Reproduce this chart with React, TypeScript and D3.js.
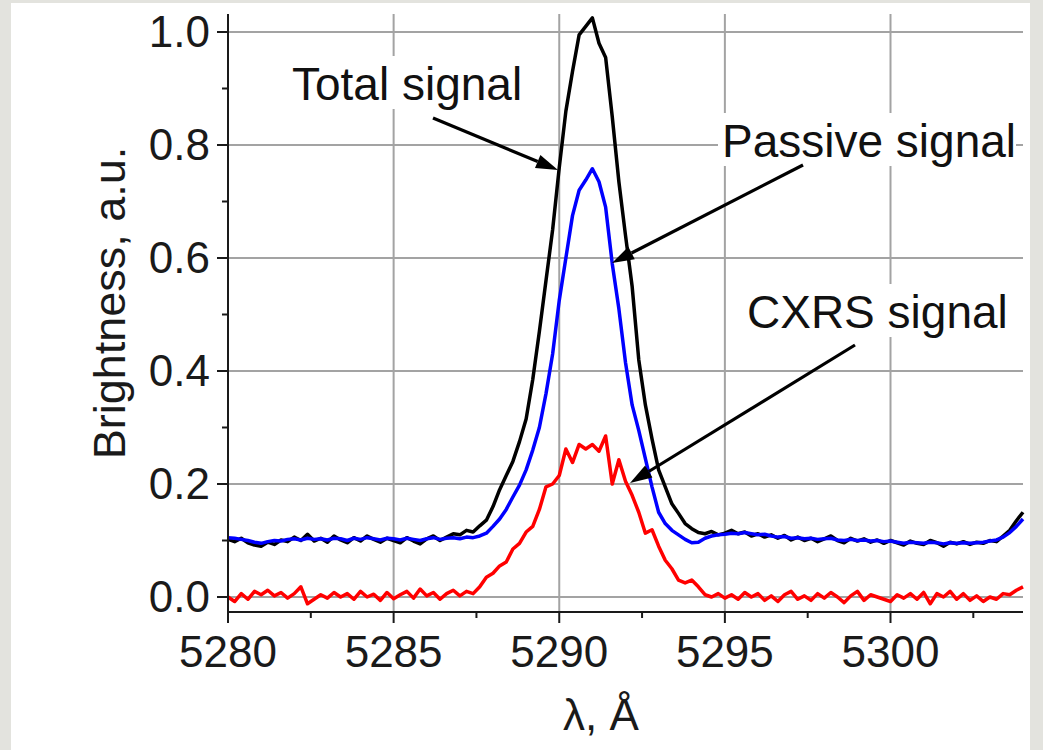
import React from "react";
import * as d3 from "d3";

// ---------- data ----------
const X_START = 5280;
const X_STEP = 0.2;

const TOTAL = [
  0.102, 0.098, 0.104, 0.096, 0.092, 0.090, 0.097, 0.093, 0.101, 0.098,
  0.106, 0.100, 0.111, 0.099, 0.104, 0.097, 0.108, 0.101, 0.096, 0.105,
  0.099, 0.108, 0.102, 0.097, 0.104, 0.100, 0.096, 0.105, 0.099, 0.094,
  0.103, 0.108, 0.100, 0.106, 0.112, 0.110, 0.118, 0.115, 0.126, 0.136,
  0.160, 0.190, 0.215, 0.240, 0.275, 0.315, 0.385, 0.470, 0.560, 0.650,
  0.760, 0.860, 0.930, 0.995, 1.010, 1.025, 0.980, 0.955, 0.850, 0.735,
  0.640, 0.550, 0.420, 0.340, 0.280, 0.225, 0.195, 0.165, 0.148, 0.130,
  0.121, 0.114, 0.112, 0.116, 0.110, 0.113, 0.118, 0.112, 0.115, 0.108,
  0.112, 0.106, 0.110, 0.104, 0.109, 0.101, 0.106, 0.100, 0.104, 0.098,
  0.103, 0.108, 0.100, 0.096, 0.104, 0.099, 0.103, 0.097, 0.101, 0.095,
  0.100, 0.096, 0.092, 0.099, 0.095, 0.093, 0.100, 0.096, 0.090, 0.097,
  0.094, 0.098, 0.093, 0.097, 0.095, 0.100, 0.098, 0.108, 0.118, 0.135,
  0.150,
];

const PASSIVE = [
  0.105, 0.104, 0.102, 0.100, 0.097, 0.095, 0.098, 0.100, 0.099, 0.102,
  0.103, 0.101, 0.104, 0.102, 0.103, 0.101, 0.104, 0.103, 0.100, 0.104,
  0.102, 0.105, 0.103, 0.101, 0.104, 0.103, 0.101, 0.104, 0.102, 0.100,
  0.103, 0.105, 0.102, 0.104, 0.105, 0.103, 0.106, 0.105, 0.108, 0.113,
  0.125, 0.138, 0.155, 0.177, 0.198, 0.225, 0.260, 0.300, 0.360, 0.430,
  0.525, 0.600, 0.675, 0.720, 0.738, 0.758, 0.735, 0.690, 0.590, 0.510,
  0.415, 0.340, 0.295, 0.245, 0.195, 0.150, 0.130, 0.118, 0.110, 0.102,
  0.096, 0.097, 0.104, 0.108, 0.110, 0.111, 0.113, 0.112, 0.114, 0.112,
  0.110, 0.111, 0.108, 0.106, 0.107, 0.104, 0.105, 0.103, 0.104, 0.102,
  0.103, 0.104, 0.101, 0.100, 0.102, 0.100, 0.101, 0.099, 0.100, 0.098,
  0.099, 0.097, 0.095, 0.097, 0.096, 0.095, 0.097, 0.096, 0.094, 0.096,
  0.095, 0.096, 0.095, 0.096, 0.097, 0.099, 0.101, 0.106, 0.114, 0.125,
  0.138,
];

const CXRS = [
  0.000, -0.008, 0.006, -0.004, 0.010, 0.004, 0.012, 0.002, 0.008, -0.002,
  0.006, 0.018, -0.012, -0.004, 0.004, -0.002, 0.008, 0.000, 0.006, -0.004,
  0.010, 0.000, 0.005, -0.006, 0.008, -0.003, 0.004, 0.010, -0.002, 0.014,
  0.002, 0.008, -0.004, 0.006, 0.012, 0.002, 0.010, 0.006, 0.018, 0.035,
  0.042, 0.055, 0.062, 0.085, 0.095, 0.115, 0.125, 0.155, 0.195, 0.200,
  0.215, 0.262, 0.238, 0.270, 0.262, 0.270, 0.258, 0.285, 0.200, 0.243,
  0.205, 0.180, 0.150, 0.113, 0.119, 0.090, 0.065, 0.050, 0.030, 0.025,
  0.030, 0.018, 0.004, 0.000, 0.006, -0.002, 0.004, -0.004, 0.008, 0.000,
  0.006, -0.006, 0.002, -0.008, 0.004, 0.010, -0.004, 0.002, -0.006, 0.006,
  -0.002, 0.008, 0.000, -0.010, 0.002, 0.010, -0.006, 0.004, 0.000, -0.004,
  -0.008, 0.004, -0.002, 0.006, -0.004, 0.008, -0.012, 0.006, 0.000, 0.010,
  -0.004, 0.006, -0.006, 0.002, -0.008, 0.000, -0.004, 0.006, 0.004, 0.012,
  0.018,
];

const X_TICKS = [5280, 5285, 5290, 5295, 5300];
const X_MINOR = [5282.5, 5287.5, 5292.5, 5297.5, 5302.5];
const Y_TICKS = [0.0, 0.2, 0.4, 0.6, 0.8, 1.0];
const Y_MINOR = [0.1, 0.3, 0.5, 0.7, 0.9];

const LABELS = [
  { text: "Total signal", x: 292, y: 100, bw: 243, ax: 433, ay: 118, tx: 558, ty: 170 },
  { text: "Passive signal", x: 722, y: 157, bw: 298, ax: 803, ay: 165, tx: 612, ty: 263 },
  { text: "CXRS signal", x: 747, y: 328, bw: 268, ax: 855, ay: 345, tx: 630, ty: 483 },
];

// ---------- layout ----------
const W = 1043;
const H = 750;
const L = 228, R = 1023, T = 14, B = 612;
const FONT = "'Liberation Sans', Arial, Helvetica, sans-serif";
const AX = "#1a1a1a";
const GRID = "#a3a3a3";

export default function App() {
  const x = d3.scaleLinear().domain([5280, 5304]).range([L, R]);
  const y = d3.scaleLinear().domain([0, 1]).range([597, 32]);

  const mk = (vals: number[]) =>
    d3
      .line<number>()
      .x((_, i) => x(X_START + X_STEP * i))
      .y((v) => y(v))(vals) || "";

  const series = [
    { vals: TOTAL, color: "#000000" },
    { vals: PASSIVE, color: "#0000ff" },
    { vals: CXRS, color: "#ff0000" },
  ];

  const arrow = (l: typeof LABELS[0]) => {
    const dx = l.tx - l.ax, dy = l.ty - l.ay;
    const len = Math.hypot(dx, dy);
    const ux = dx / len, uy = dy / len;
    const hl = 22, hw = 7;
    const bx = l.tx - ux * hl, by = l.ty - uy * hl;
    const p1 = [bx - uy * hw, by + ux * hw];
    const p2 = [bx + uy * hw, by - ux * hw];
    return (
      <g key={"a" + l.text}>
        <line x1={l.ax} y1={l.ay} x2={bx} y2={by} stroke="#000" strokeWidth={3.2} />
        <polygon points={`${l.tx},${l.ty} ${p1[0]},${p1[1]} ${p2[0]},${p2[1]}`} fill="#000" />
      </g>
    );
  };

  return (
    <svg
      width={W}
      height={H}
      style={{ position: "absolute", left: 0, top: 0, display: "block" }}
      fontFamily={FONT}
    >
      <rect x={0} y={0} width={W} height={H} fill="#e3e3de" />
      <rect x={11} y={3} width={1019} height={H - 3} fill="#ffffff" />

      {/* grid */}
      {X_TICKS.map((t) => (
        <line key={"gx" + t} x1={x(t)} x2={x(t)} y1={T} y2={B} stroke={GRID} strokeWidth={2} />
      ))}
      {Y_TICKS.map((t) => (
        <line key={"gy" + t} x1={L} x2={R} y1={y(t)} y2={y(t)} stroke={GRID} strokeWidth={2} />
      ))}

      {/* label backgrounds */}
      {LABELS.map((l) => (
        <rect key={"bg" + l.text} x={l.x - 4} y={l.y - 44} width={l.bw} height={53} fill="#ffffff" />
      ))}

      {/* series */}
      {series.map((s) => (
        <path
          key={s.color}
          d={mk(s.vals)}
          fill="none"
          stroke={s.color}
          strokeWidth={3.5}
          strokeLinejoin="round"
        />
      ))}

      {/* axes */}
      <line x1={L} x2={L} y1={T} y2={B} stroke={AX} strokeWidth={2} />
      <line x1={L} x2={R} y1={B} y2={B} stroke={AX} strokeWidth={2} />
      {Y_TICKS.map((t) => (
        <g key={"yt" + t}>
          <line x1={L - 11} x2={L} y1={y(t)} y2={y(t)} stroke={AX} strokeWidth={2} />
          <text x={210} y={y(t)} dy="0.35em" textAnchor="end" fontSize={44} fill="#1a1a1a">
            {t.toFixed(1)}
          </text>
        </g>
      ))}
      {Y_MINOR.map((t) => (
        <line key={"ym" + t} x1={L - 6} x2={L} y1={y(t)} y2={y(t)} stroke={AX} strokeWidth={2} />
      ))}
      {X_TICKS.map((t) => (
        <g key={"xt" + t}>
          <line x1={x(t)} x2={x(t)} y1={B} y2={B + 11} stroke={AX} strokeWidth={2} />
          <text x={x(t)} y={667} textAnchor="middle" fontSize={44} fill="#1a1a1a">
            {t}
          </text>
        </g>
      ))}
      {X_MINOR.map((t) => (
        <line key={"xm" + t} x1={x(t)} x2={x(t)} y1={B} y2={B + 6} stroke={AX} strokeWidth={2} />
      ))}

      {/* axis titles */}
      <text transform="translate(125,303) rotate(-90)" textAnchor="middle" fontSize={45} fill="#1a1a1a">
        Brightness, a.u.
      </text>
      <text x={601} y={730} textAnchor="middle" fontSize={44} fill="#1a1a1a">
        λ, Å
      </text>

      {/* annotations */}
      {LABELS.map((l) => (
        <text key={"t" + l.text} x={l.x} y={l.y} fontSize={46} fill="#111">
          {l.text}
        </text>
      ))}
      {LABELS.map(arrow)}
    </svg>
  );
}
